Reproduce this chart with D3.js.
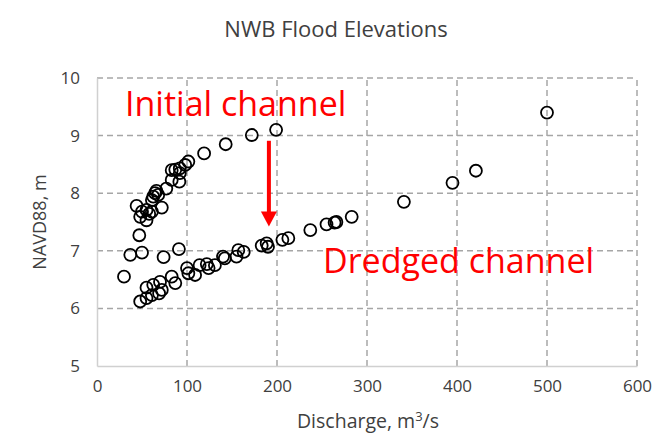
<!DOCTYPE html>
<html>
<head>
<meta charset="utf-8">
<script src="https://cdn.jsdelivr.net/npm/d3@7"></script>
<style>
  body { margin: 0; background: #fff; }
  text { font-family: "Open Sans", sans-serif; }
</style>
</head>
<body>
<svg id="chart" width="665" height="441"></svg>
<script>
// chart values
var xTicks = [0, 100, 200, 300, 400, 500, 600];
var yTicks = [5, 6, 7, 8, 9, 10];

// initial channel runs (upper branch)
var initialQ = [30, 37, 50, 74, 91, 47, 48, 55, 44, 50, 55, 61, 72, 58, 61, 62.5, 64.5, 66, 68, 77,
                83, 91.5, 92, 83, 87, 92, 98, 101.5, 119, 143, 172, 199];
var initialZ = [6.55, 6.93, 6.97, 6.89, 7.03, 7.27, 7.59, 7.53, 7.78, 7.68, 7.71, 7.68, 7.75, 7.64, 7.88, 7.94, 8.0, 8.04, 7.97, 8.08,
                8.23, 8.20, 8.35, 8.40, 8.41, 8.43, 8.49, 8.55, 8.69, 8.85, 9.01, 9.10];

// dredged channel runs (lower branch)
var dredgedQ = [48, 55, 61, 55, 62.5, 70, 72, 69, 83, 87, 100, 101.5, 109, 114, 122, 124, 131, 140, 142, 155,
                157, 163, 183, 188.5, 190, 206, 212.6, 237, 255, 264, 266, 283, 341, 395, 421, 500];
var dredgedZ = [6.12, 6.18, 6.23, 6.36, 6.41, 6.46, 6.32, 6.26, 6.55, 6.44, 6.70, 6.61, 6.58, 6.75, 6.77, 6.70, 6.75, 6.90, 6.87, 6.90,
                7.01, 6.98, 7.09, 7.13, 7.07, 7.19, 7.22, 7.36, 7.46, 7.49, 7.50, 7.59, 7.85, 8.18, 8.39, 9.40];

var width = 665, height = 441;
var margin = {top: 78, right: 28, bottom: 75, left: 97};

var svg = d3.select("#chart");

var x = d3.scaleLinear().domain([0, 600]).range([margin.left, width - margin.right]);
var y = d3.scaleLinear().domain([5, 10]).range([height - margin.bottom, margin.top]);

// title
svg.append("text")
    .attr("x", 336).attr("y", 37)
    .attr("text-anchor", "middle")
    .attr("fill", "#404040")
    .style("font-size", "22px")
    .text("NWB Flood Elevations");

// dashed grid
var grid = svg.append("g");
grid.selectAll("line.gx")
    .data(xTicks.filter(function(d) { return d > 0; }))
    .enter().append("line")
    .attr("x1", function(d) { return x(d); }).attr("x2", function(d) { return x(d); })
    .attr("y1", y(5)).attr("y2", y(10));
grid.selectAll("line.gy")
    .data(yTicks.filter(function(d) { return d > 5; }))
    .enter().append("line")
    .attr("y1", function(d) { return y(d); }).attr("y2", function(d) { return y(d); })
    .attr("x1", x(0)).attr("x2", x(600));
grid.selectAll("line")
    .attr("stroke", "#a6a6a6")
    .attr("stroke-width", 1.5)
    .attr("stroke-dasharray", "6,4");

// axes
var xAxis = d3.axisBottom(x).tickValues(xTicks).tickFormat(d3.format("d")).tickSize(0).tickPadding(14);
var yAxis = d3.axisLeft(y).tickValues(yTicks).tickFormat(d3.format("d")).tickSize(0).tickPadding(17);

var gx = svg.append("g").attr("transform", "translate(0," + y(5) + ")").call(xAxis);
var gy = svg.append("g").attr("transform", "translate(" + x(0) + ",0)").call(yAxis);

[gx, gy].forEach(function(g) {
    g.select(".domain").attr("stroke", "#d0d0d0").attr("stroke-width", 1.5);
    g.selectAll("text")
        .attr("fill", "#404040")
        .style("font-size", "17px")
        .style("font-family", "'Open Sans', sans-serif");
});

// axis titles
var xt = svg.append("text")
    .attr("x", 368).attr("y", 428)
    .attr("text-anchor", "middle")
    .attr("fill", "#404040")
    .style("font-size", "19.5px");
xt.append("tspan").text("Discharge, m");
xt.append("tspan").attr("dy", -7).style("font-size", "13px").text("3");
xt.append("tspan").attr("dy", 7).text("/s");

svg.append("text")
    .attr("transform", "translate(46," + ((y(5) + y(10)) / 2) + ") rotate(-90)")
    .attr("text-anchor", "middle")
    .attr("fill", "#404040")
    .style("font-size", "18px")
    .text("NAVD88, m");

// points
var pts = svg.append("g");
function drawPoints(qs, zs) {
    pts.selectAll(null)
        .data(d3.zip(qs, zs))
        .enter().append("circle")
        .attr("cx", function(d) { return x(d[0]); })
        .attr("cy", function(d) { return y(d[1]); })
        .attr("r", 6)
        .attr("fill", "none")
        .attr("stroke", "#000")
        .attr("stroke-width", 1.8);
}
drawPoints(initialQ, initialZ);
drawPoints(dredgedQ, dredgedZ);

// annotations
svg.append("text")
    .attr("x", 125).attr("y", 116)
    .attr("fill", "#ff0000")
    .style("font-size", "34px")
    .text("Initial channel");

svg.append("text")
    .attr("x", 323).attr("y", 273)
    .attr("fill", "#ff0000")
    .style("font-size", "34px")
    .text("Dredged channel");

var ax = x(191), ay0 = y(8.91), ay1 = y(7.42);
svg.append("line")
    .attr("x1", ax).attr("x2", ax)
    .attr("y1", ay0).attr("y2", ay1 - 13)
    .attr("stroke", "#ff0000")
    .attr("stroke-width", 4);
svg.append("path")
    .attr("d", "M" + (ax - 8) + "," + (ay1 - 15) + "L" + (ax + 8) + "," + (ay1 - 15) + "L" + ax + "," + ay1 + "Z")
    .attr("fill", "#ff0000");
</script>
</body>
</html>
